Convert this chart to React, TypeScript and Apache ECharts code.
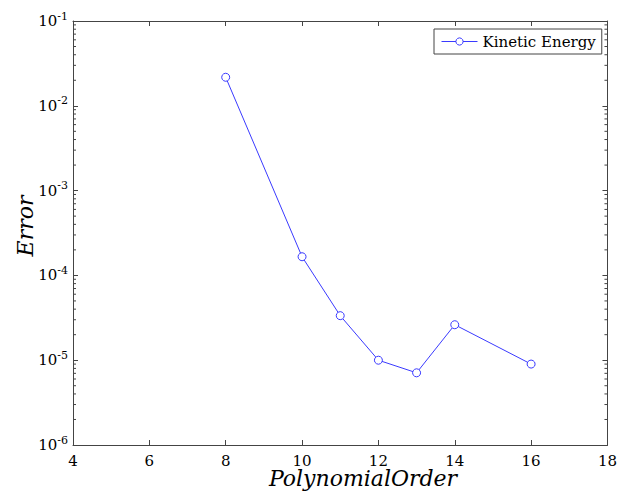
import React, { useEffect, useRef } from "react";
import * as echarts from "echarts";

const orders = [8, 10, 11, 12, 13, 14, 16];
const kineticError = [0.0217, 1.66e-4, 3.35e-5, 1.0e-5, 7.1e-6, 2.62e-5, 9.0e-6];
const seriesName = "Kinetic Energy";
const xTicks = [4, 6, 8, 10, 12, 14, 16, 18];
const yExponents = [-6, -5, -4, -3, -2, -1];
const minorFactors = [2, 3, 4, 5, 6, 7, 8, 9];

const AXIS = "#444444";
const FONT = "DejaVu Serif";
const BLUE = "#3a3aff";

export default function App() {
  const ref = useRef<HTMLDivElement>(null);
  useEffect(() => {
    if (!ref.current) return;
    const chart = echarts.init(ref.current, undefined, { renderer: "svg" });
    const minorVals: number[][] = [];
    yExponents.slice(0, -1).forEach((e) => {
      minorFactors.forEach((f) => minorVals.push([4, f * Math.pow(10, e)]));
    });
    const common = {
      axisLine: { show: true, lineStyle: { color: AXIS, width: 1 } },
      axisTick: { show: true, inside: true, length: 5, lineStyle: { color: AXIS } },
      splitLine: { show: false },
      minorTick: { show: false },
    };
    chart.setOption({
      animation: false,
      backgroundColor: "#ffffff",
      textStyle: { fontFamily: FONT },
      grid: { left: 73, top: 21, right: 11, bottom: 48, containLabel: false },
      legend: {
        left: 434,
        top: 29,
        orient: "vertical",
        itemWidth: 36,
        itemHeight: 9,
        padding: [5, 6, 5, 7],
        borderColor: AXIS,
        borderWidth: 1,
        backgroundColor: "#ffffff",
        lineStyle: { width: 1 },
        itemStyle: { borderWidth: 1 },
        textStyle: { fontFamily: FONT, fontSize: 15, color: "#000" },
        data: [seriesName],
      },
      xAxis: [
        {
          type: "value",
          min: xTicks[0],
          max: xTicks[xTicks.length - 1],
          interval: 2,
          position: "bottom",
          ...common,
          axisLabel: {
            color: "#000",
            fontFamily: FONT,
            fontSize: 15,
            margin: 8,
            formatter: (v: number) => (xTicks.includes(v) ? String(v) : ""),
          },
        },
        {
          type: "value",
          min: xTicks[0],
          max: xTicks[xTicks.length - 1],
          interval: 2,
          position: "top",
          ...common,
          axisLabel: { show: false },
        },
      ],
      yAxis: [
        {
          type: "log",
          logBase: 10,
          min: Math.pow(10, yExponents[0]),
          max: Math.pow(10, yExponents[yExponents.length - 1]),
          position: "left",
          ...common,
          axisLabel: {
            margin: 5,
            formatter: (v: number) => {
              const e = Math.round(Math.log10(v));
              return `{b|10}{s|${e}}`;
            },
            rich: {
              b: { fontFamily: FONT, fontSize: 15, color: "#000" },
              s: { fontFamily: FONT, fontSize: 11, color: "#000", padding: [0, 0, 10, 0] },
            },
          },
        },
        {
          type: "log",
          logBase: 10,
          min: Math.pow(10, yExponents[0]),
          max: Math.pow(10, yExponents[yExponents.length - 1]),
          position: "right",
          ...common,
          axisLabel: { show: false },
        },
      ],
      graphic: [
        {
          type: "text",
          x: 25,
          y: 226,
          rotation: Math.PI / 2,
          style: {
            text: "Error",
            fontFamily: FONT,
            fontStyle: "italic",
            fontSize: 22,
            fill: "#000",
            align: "center",
            verticalAlign: "middle",
          },
        },
        {
          type: "text",
          x: 363,
          y: 478,
          style: {
            text: "PolynomialOrder",
            fontFamily: FONT,
            fontStyle: "italic",
            fontSize: 22,
            fill: "#000",
            align: "center",
            verticalAlign: "middle",
          },
        },
      ],
      series: [
        {
          type: "custom",
          silent: true,
          xAxisIndex: 0,
          yAxisIndex: 0,
          clip: false,
          data: minorVals,
          renderItem: (params: any, api: any) => {
            const p = api.coord([api.value(0), api.value(1)]);
            const cs = params.coordSys;
            return {
              type: "group",
              children: [
                {
                  type: "line",
                  shape: { x1: cs.x, y1: p[1], x2: cs.x + 3, y2: p[1] },
                  style: { stroke: AXIS, lineWidth: 1 },
                },
                {
                  type: "line",
                  shape: { x1: cs.x + cs.width, y1: p[1], x2: cs.x + cs.width - 3, y2: p[1] },
                  style: { stroke: AXIS, lineWidth: 1 },
                },
              ],
            };
          },
        },
        {
          name: seriesName,
          type: "line",
          xAxisIndex: 0,
          yAxisIndex: 0,
          data: orders.map((x, i) => [x, kineticError[i]]),
          symbol: "circle",
          symbolSize: 8,
          showSymbol: true,
          lineStyle: { color: BLUE, width: 1 },
          itemStyle: { color: "#ffffff", borderColor: BLUE, borderWidth: 1 },
          color: BLUE,
        },
      ],
    });
    return () => chart.dispose();
  }, []);
  return (
    <div
      ref={ref}
      style={{ position: "fixed", left: 0, top: 0, width: 620, height: 493 }}
    />
  );
}
